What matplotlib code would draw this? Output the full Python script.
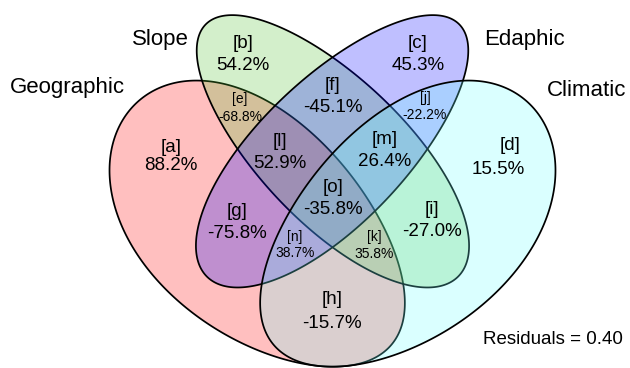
import numpy as np
import matplotlib.pyplot as plt
from matplotlib.colors import to_rgba
from matplotlib.patches import Polygon

plt.rcParams['font.family'] = ['Liberation Sans', 'DejaVu Sans']

# region ids and their percentages
regions = ['a', 'b', 'c', 'd', 'e', 'f', 'g', 'h', 'i', 'j', 'k', 'l', 'm', 'n', 'o']
values = [88.2, 54.2, 45.3, 15.5, -68.8, -45.1, -75.8, -15.7, -27.0, -22.2,
          35.8, 52.9, 26.4, 38.7, -35.8]
set_names = ['Geographic', 'Slope', 'Edaphic', 'Climatic']
residuals = 0.40

# label placement (pixel coords, y down)
tag_xy = [(171, 147), (243, 43), (418, 43), (510, 146), (240, 99), (333, 86),
          (237, 212), (332, 300), (432, 210), (425, 98), (374, 237), (280, 142),
          (385, 140), (295, 237), (333, 187)]
val_xy = [(171, 166), (243, 65), (418, 65), (498, 169), (240, 117), (333, 107),
          (237, 233), (332, 324), (432, 232), (425, 115), (374, 254), (280, 163),
          (385, 162), (295, 253), (333, 209)]
small = {'e', 'j', 'k', 'n'}
name_xy = [(67, 88), (160, 39), (524, 39), (587, 90)]

AXIS_X = 332.5
# egg outlines: centre x, centre y, half length, half width, tilt, taper, bend
GEO = (258.4, 229.7, 175.8, 106.4, 43.1, -0.11, -0.04)
SLOPE = (332.0, 150.4, 178.4, 72.5, 45.0, 0.05, 0.0)


def egg(p, n=720):
    cx, cy, a, b, th, k, q = p
    t = np.linspace(0, 2 * np.pi, n, endpoint=False)
    u = a * np.cos(t)
    v = b * np.sin(t) * (1 + k * np.cos(t)) + q * b * np.cos(t) ** 2
    c, s = np.cos(np.radians(th)), np.sin(np.radians(th))
    return np.column_stack([cx + u * c - v * s, cy + u * s + v * c])


def mirror(p):
    cx, cy, a, b, th, k, q = p
    return (2 * AXIS_X - cx, cy, a, b, 180 - th, k, -q)


shapes = [GEO, SLOPE, mirror(SLOPE), mirror(GEO)]
fills = ['#ff0000', '#53c333', '#0000ff', '#6effff']

fig = plt.figure(figsize=(6.3, 3.68), dpi=100)
ax = fig.add_axes([0, 0, 1, 1])
ax.set_xlim(0, 630)
ax.set_ylim(368, 0)
ax.axis('off')

# later sets tint the outlines of earlier ones
for p, col in zip(shapes, fills):
    ax.add_patch(Polygon(egg(p), closed=True, facecolor=to_rgba(col, 0.25),
                         edgecolor='black', lw=1.25))

for r, v, (tx, ty), (vx, vy) in zip(regions, values, tag_xy, val_xy):
    fs = 10 if r in small else 13.5
    ax.text(tx, ty, f'[{r}]', fontsize=fs, ha='center', va='center')
    ax.text(vx, vy, f'{v:.1f}%', fontsize=fs, ha='center', va='center')

for name, (x, y) in zip(set_names, name_xy):
    ax.text(x, y, name, fontsize=16, ha='center', va='center')

ax.text(553, 339, f'Residuals = {residuals:.2f}', fontsize=13.5, ha='center', va='center')

fig.savefig('out.png', dpi=100)
